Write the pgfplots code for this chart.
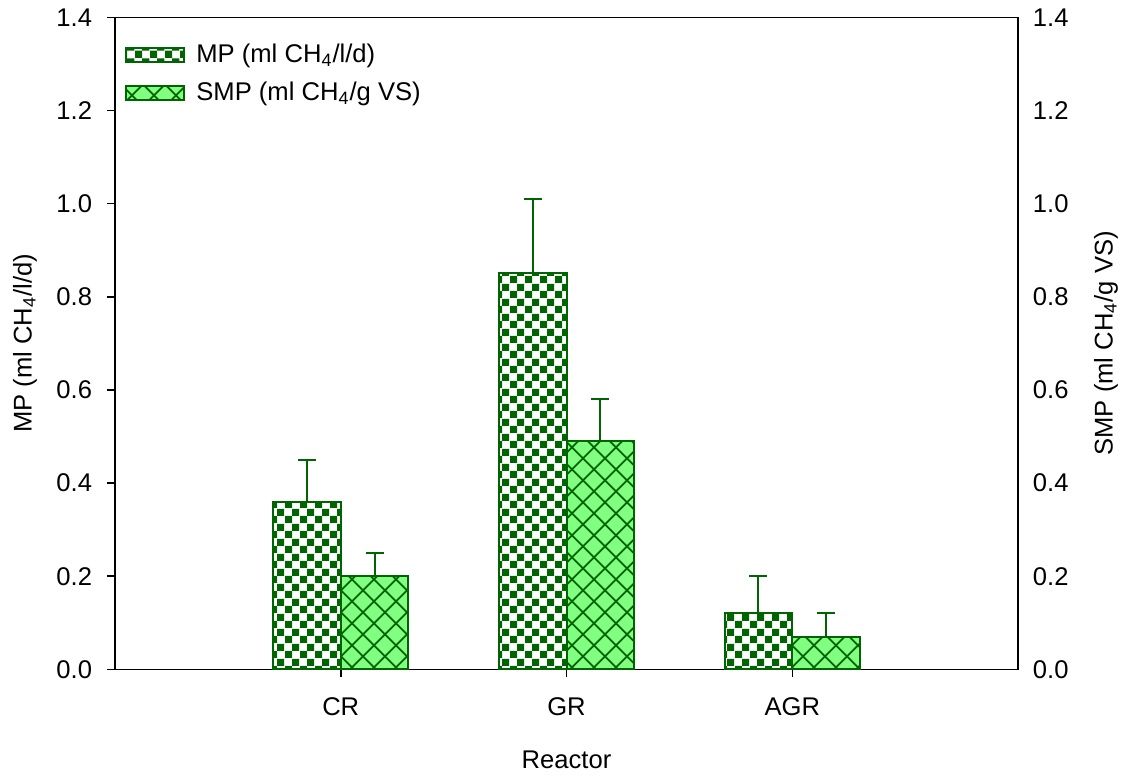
\documentclass[border=0pt]{standalone}
\usepackage{fontspec}
\setmainfont{Liberation Sans}
\usepackage{pgfplots}
\usepackage{pgfplotstable}
\pgfplotsset{compat=1.18}
\usetikzlibrary{patterns.meta}
\definecolor{dg}{RGB}{0,100,0}
\definecolor{lg}{RGB}{128,255,128}
\tikzdeclarepattern{name=mychecker, type=uncolored,
  bounding box={(0,0) and (7.5pt,7.5pt)}, tile size={(7.5pt,7.5pt)},
  code={\fill (0,0) rectangle (3.75pt,3.75pt); \fill (3.75pt,3.75pt) rectangle (7.5pt,7.5pt);}}
\tikzdeclarepattern{name=bigcross, type=uncolored,
  bounding box={(-1pt,-1pt) and (12pt,12pt)}, tile size={(11pt,11pt)},
  code={\draw[line width=0.9pt] (0,0)--(11pt,11pt); \draw[line width=0.9pt] (0,11pt)--(11pt,0);}}
\pgfplotstableread{
xa xb mp mperr smp smperr
0.85 1.15 0.36 0.09 0.20 0.05
1.85 2.15 0.85 0.16 0.49 0.09
2.85 3.15 0.12 0.08 0.07 0.05
}\data
\pgfplotsset{nf/.style={/pgf/number format/fixed, /pgf/number format/fixed zerofill, /pgf/number format/precision=1}}
\begin{document}
\fontsize{12.8}{15}\selectfont
\begin{tikzpicture}
\begin{axis}[
  scale only axis, width=451.5pt, height=326pt,
  xmin=0, xmax=4, ymin=0, ymax=1.4,
  axis line style={line width=0.75pt},
  xtick={1,2,3}, xticklabels={CR,GR,AGR},
  ytick={0,0.2,...,1.4},
  xtick pos=lower, ytick pos=left, tick align=outside,
  major tick length=4pt,
  tick style={line width=0.75pt, black},
  yticklabel style={nf, xshift=-3pt},
  /pgf/number format/assume math mode=true,
  xticklabel style={yshift=-5.5pt},
  xlabel={Reactor}, xlabel style={at={(rel axis cs:0.5,0)}, anchor=center, yshift=-45pt},
  ylabel={MP (ml CH\textsubscript{4}/l/d)}, ylabel style={at={(rel axis cs:0,0.5)}, anchor=center, rotate=0, yshift=45pt},
  legend style={at={(rel axis cs:0,1)}, anchor=north west, draw=none, fill=none,
    xshift=2pt, yshift=-9pt, row sep=4pt, font=\fontsize{12.8}{15}\selectfont},
  legend cell align=left,
  legend image code/.code={\draw[#1] (0pt,-3.5pt) rectangle (29pt,3.5pt); \path (32.5pt,0);},
]
\addplot[ybar, bar width=0.3, bar shift=0, draw=dg, line width=1pt,
  pattern={mychecker}, pattern color=dg,
  error bars/.cd, y dir=plus, y explicit,
  error bar style={dg, line width=1pt},
  error mark options={dg, mark size=4.5pt, line width=1pt, rotate=90}]
  table[x=xa, y=mp, y error=mperr]{\data};
\addlegendentry{MP (ml CH\textsubscript{4}/l/d)}
\addplot[ybar, bar width=0.3, bar shift=0, draw=dg, line width=1pt,
  fill=lg, postaction={pattern={bigcross}, pattern color=dg},
  error bars/.cd, y dir=plus, y explicit,
  error bar style={dg, line width=1pt},
  error mark options={dg, mark size=4.5pt, line width=1pt, rotate=90}]
  table[x=xb, y=smp, y error=smperr]{\data};
\addlegendentry{SMP (ml CH\textsubscript{4}/g VS)}
\coordinate (sw) at (rel axis cs:0,0);
\coordinate (ne) at (rel axis cs:1,1);
\end{axis}
\begin{axis}[
  scale only axis, width=451.5pt, height=326pt,
  xmin=0, xmax=4, ymin=0, ymax=1.4,
  hide x axis, axis y line*=right, axis line style={line width=0.75pt},
  ytick={0,0.2,...,1.4}, major tick length=0pt,
  yticklabel style={nf, xshift=3pt},
  /pgf/number format/assume math mode=true,
  ylabel={SMP (ml CH\textsubscript{4}/g VS)}, ylabel style={at={(rel axis cs:1,0.5)}, anchor=center, rotate=0, yshift=-44pt},
]
\end{axis}
\path (sw) ++(-57.5pt,-54pt);
\path (ne) ++(55.5pt,8pt);
\end{tikzpicture}
\end{document}
